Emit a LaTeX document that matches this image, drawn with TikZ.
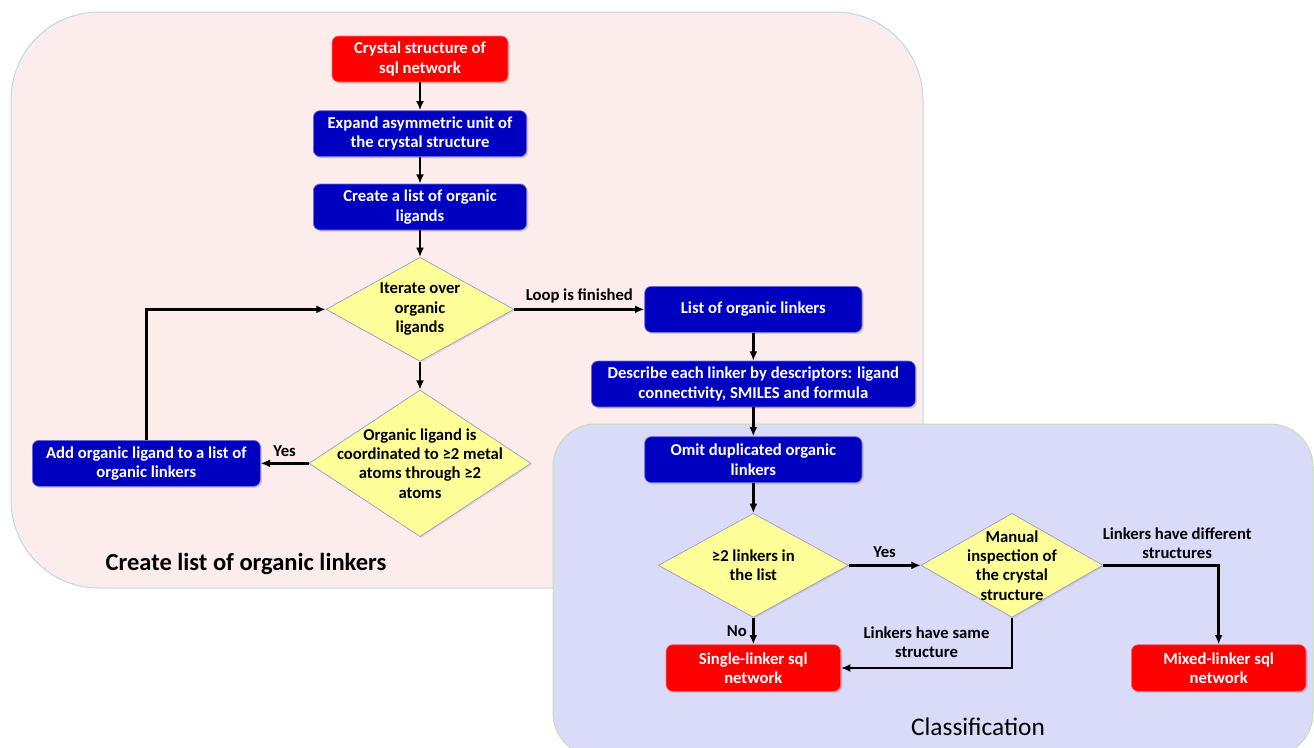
\documentclass[tikz,border=0pt]{standalone}
\usepackage{fontspec}
\setmainfont{Carlito}
\usetikzlibrary{positioning,shapes.geometric,arrows.meta,shadows}

\definecolor{boxblue}{RGB}{0,0,192}
\definecolor{boxred}{RGB}{255,0,0}
\definecolor{decyellow}{RGB}{255,255,153}
\definecolor{bgpink}{RGB}{253,236,236}
\definecolor{bglilac}{RGB}{218,218,249}
\definecolor{pinkline}{RGB}{189,215,238}
\definecolor{lilacline}{RGB}{197,224,180}

\tikzset{
  panel/.style={line width=0.75pt},
  base/.style={rectangle, rounded corners=5pt, inner sep=0pt, align=center,
    text=white, font=\bfseries\fontsize{12.5}{14.5}\selectfont,
    minimum height=34.5pt, line width=0.5pt,
    drop shadow={shadow xshift=1.2pt, shadow yshift=-1.2pt, opacity=0.3}},
  procbox/.style={base, fill=boxblue, draw=boxblue!55!white},
  endbox/.style={base, fill=boxred, draw=boxred!55!white},
  decision/.style={diamond, fill=decyellow, draw=blue!35!gray!60, line width=0.5pt,
    inner sep=0pt,
    drop shadow={shadow xshift=1pt, shadow yshift=-1pt, opacity=0.2}},
  dtext/.style={align=center, inner sep=0pt, font=\bfseries\fontsize{12.5}{14.5}\selectfont},
  elabel/.style={align=center, inner sep=1pt, font=\bfseries\fontsize{12.5}{14.5}\selectfont},
  flow/.style={->, line width=1.8pt},
}

\begin{document}
\begin{tikzpicture}[x=0.75pt,y=-0.75pt,>={Latex[length=7pt,width=6pt]}]
\useasboundingbox (0,0) rectangle (1314,747);
\clip (0,0) rectangle (1314,747);

% panels
\path[panel, fill=bgpink, draw=pinkline, rounded corners=66pt] (11,12) rectangle (923,588);
\path[panel, fill=bglilac, draw=lilacline, rounded corners=32pt] (553,424) rectangle (1313,756);

\node[font=\bfseries\fontsize{18.4}{22}\selectfont] (T1) at (246,564) {Create list of organic linkers};
\node[font=\fontsize{19}{22}\selectfont] (T2) at (978,727) {Classification};

% left column
\node[endbox, minimum width=132pt] (C1) at (420,59) {Crystal structure of\\sql network};
\node[procbox, minimum width=160pt, below=21pt of C1] (C2) {Expand asymmetric unit of\\the crystal structure};
\node[procbox, minimum width=160pt, below=20pt of C2] (C3) {Create a list of organic\\ligands};
\node[decision, minimum width=141pt, minimum height=78pt, below=20pt of C3] (D1) {};
\node[dtext] (D1t) at (D1) {Iterate over\\organic\\ligands};
\node[decision, minimum width=166.5pt, minimum height=110pt, below=21pt of D1] (D2) {};
\node[dtext] (D2t) at (D2) {Organic ligand is\\coordinated to ≥2 metal\\atoms through ≥2\\atoms};
\node[procbox, minimum width=171pt, left=36pt of D2] (A1) {Add organic ligand to a list of\\organic linkers};

% right column
\node[procbox, minimum width=163pt, right=97.5pt of D1] (L1) {List of organic linkers};
\node[procbox, minimum width=243pt, below=21pt of L1] (L2) {Describe each linker by descriptors: ligand\\connectivity, SMILES and formula};
\node[procbox, minimum width=163pt, below=21.75pt of L2] (L3) {Omit duplicated organic\\linkers};
\node[decision, minimum width=142.5pt, minimum height=78pt, below=22.5pt of L3] (D3) {};
\node[dtext] (D3t) at (D3) {≥2 linkers in\\the list};
\node[decision, minimum width=136.5pt, minimum height=78pt, right=54pt of D3] (D4) {};
\node[dtext] (D4t) at (D4) {Manual\\inspection of\\the crystal\\structure};
\node[endbox, minimum width=131pt, minimum height=35pt, below=20pt of D3] (E1) {Single-linker sql\\network};
\node[endbox, minimum width=131pt, minimum height=35pt, right=217.5pt of E1] (E2) {Mixed-linker sql\\network};

\draw[flow] (C1) -- (C2);
\draw[flow] (C2) -- (C3);
\draw[flow] (C3) -- (D1);
\draw[flow] (D1) -- (D2);
\draw[flow] (D2) -- node[elabel, above=3pt] {Yes} (A1);
\draw[flow] (A1) |- (D1);
\draw[flow] (D1) -- node[elabel, above=3pt] {Loop is finished} (L1);
\draw[flow] (L1) -- (L2);
\draw[flow] (L2) -- (L3);
\draw[flow] (L3) -- (D3);
\draw[flow] (D3) -- node[elabel, above=4pt] {Yes} (D4);
\draw[flow] (D3) -- node[elabel, left=3pt] {No} (E1);
\draw[flow] (D4) |- node[elabel, pos=0.75, above=6pt] {Linkers have same\\structure} (E1);
\draw[flow] (D4) -| node[elabel, pos=0.32, above=3pt] {Linkers have different\\structures} (E2);
\end{tikzpicture}
\end{document}
